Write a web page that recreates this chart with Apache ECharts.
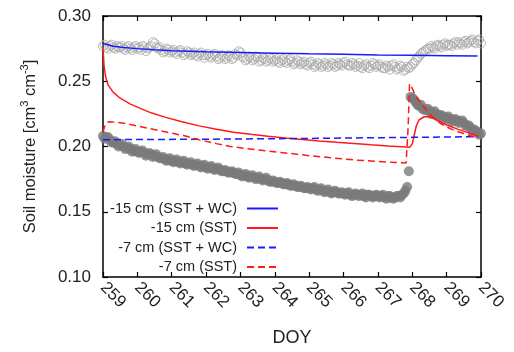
<!DOCTYPE html>
<html><head><meta charset="utf-8">
<script src="https://cdn.jsdelivr.net/npm/echarts@6/dist/echarts.min.js"></script>
<style>html,body{margin:0;padding:0;background:#fff}#c{width:514px;height:352px}</style>
</head><body><div id="c"></div>
<script>
const FONT = 'Liberation Sans, Arial, sans-serif';
const xMin = 259, xMax = 270, xStep = 1;
const yMin = 0.10, yMax = 0.30, yStep = 0.05;
const seriesNames = ['-15 cm (SST + WC)', '-15 cm (SST)', '-7 cm (SST + WC)', '-7 cm (SST)'];

// observed -15 cm (open circles)
const obs15 = [
[259.0,0.277],[259.1,0.276],[259.2,0.277],[259.3,0.276],[259.4,0.277],[259.5,0.276],[259.6,0.275],[259.7,0.276],[259.8,0.275],[259.9,0.276],
[260.0,0.275],[260.1,0.274],[260.2,0.276],[260.3,0.275],[260.4,0.277],[260.5,0.279],[260.6,0.275],[260.7,0.274],[260.8,0.273],[260.9,0.274],
[261.0,0.273],[261.1,0.272],[261.2,0.273],[261.3,0.272],[261.4,0.271],[261.5,0.272],[261.6,0.271],[261.7,0.270],[261.8,0.271],[261.9,0.270],
[262.0,0.270],[262.1,0.269],[262.2,0.270],[262.3,0.269],[262.4,0.268],[262.5,0.269],[262.6,0.268],[262.7,0.269],[262.8,0.268],[262.9,0.270],
[263.0,0.272],[263.1,0.268],[263.2,0.267],[263.3,0.268],[263.4,0.267],[263.5,0.268],[263.6,0.266],[263.7,0.267],[263.8,0.266],[263.9,0.267],
[264.0,0.266],[264.1,0.265],[264.2,0.266],[264.3,0.265],[264.4,0.266],[264.5,0.265],[264.6,0.264],[264.7,0.265],[264.8,0.264],[264.9,0.263],
[265.0,0.264],[265.1,0.263],[265.2,0.262],[265.3,0.263],[265.4,0.262],[265.5,0.263],[265.6,0.262],[265.7,0.263],[265.8,0.262],[265.9,0.263],
[266.0,0.264],[266.1,0.263],[266.2,0.262],[266.3,0.263],[266.4,0.262],[266.5,0.261],[266.6,0.262],[266.7,0.261],[266.8,0.262],[266.9,0.263],
[267.0,0.262],[267.1,0.261],[267.2,0.260],[267.3,0.261],[267.4,0.262],[267.5,0.261],[267.6,0.260],[267.7,0.261],[267.8,0.259],[267.9,0.260],
[268.0,0.263],[268.1,0.266],[268.2,0.269],[268.3,0.272],[268.4,0.274],[268.5,0.275],[268.6,0.276],[268.7,0.277],[268.8,0.277],[268.9,0.278],
[269.0,0.277],[269.1,0.278],[269.2,0.279],[269.3,0.278],[269.4,0.279],[269.5,0.280],[269.6,0.279],[269.7,0.281],[269.8,0.280],[269.9,0.281],[270.0,0.279]
];
const obs15Half = [
[259.05,0.278],[259.15,0.275],[259.25,0.278],[259.35,0.275],[259.45,0.276],[259.55,0.277],[259.65,0.274],[259.75,0.277],[259.85,0.274],[259.95,0.277],
[260.05,0.276],[260.15,0.277],[260.25,0.273],[260.35,0.276],[260.45,0.280],[260.55,0.276],[260.65,0.276],[260.75,0.272],[260.85,0.275],[260.95,0.272],
[261.05,0.274],[261.15,0.271],[261.25,0.274],[261.35,0.270],[261.45,0.273],[261.55,0.270],[261.65,0.272],[261.75,0.269],[261.85,0.272],[261.95,0.268],
[262.05,0.271],[262.15,0.268],[262.25,0.271],[262.35,0.267],[262.45,0.270],[262.55,0.267],[262.65,0.270],[262.75,0.267],[262.85,0.271],[262.95,0.273],
[263.05,0.269],[263.15,0.266],[263.25,0.269],[263.35,0.266],[263.45,0.269],[263.55,0.265],[263.65,0.268],[263.75,0.265],[263.85,0.268],[263.95,0.265],
[264.05,0.267],[264.15,0.264],[264.25,0.267],[264.35,0.264],[264.45,0.267],[264.55,0.263],[264.65,0.266],[264.75,0.263],[264.85,0.265],[264.95,0.262],
[265.05,0.265],[265.15,0.261],[265.25,0.264],[265.35,0.261],[265.45,0.264],[265.55,0.261],[265.65,0.264],[265.75,0.261],[265.85,0.264],[265.95,0.262],
[266.05,0.265],[266.15,0.262],[266.25,0.264],[266.35,0.261],[266.45,0.264],[266.55,0.260],[266.65,0.263],[266.75,0.260],[266.85,0.264],[266.95,0.261],
[267.05,0.263],[267.15,0.260],[267.25,0.262],[267.35,0.259],[267.45,0.263],[267.55,0.259],[267.65,0.262],[267.75,0.258],[267.85,0.261],[267.95,0.261],
[268.05,0.264],[268.15,0.268],[268.25,0.271],[268.35,0.273],[268.45,0.275],[268.55,0.277],[268.65,0.275],[268.75,0.278],[268.85,0.276],[268.95,0.279],
[269.05,0.278],[269.15,0.277],[269.25,0.280],[269.35,0.280],[269.45,0.278],[269.55,0.281],[269.65,0.280],[269.75,0.282],[269.85,0.279],[269.95,0.282]
];

// observed -7 cm (filled circles)
const obs7 = [
[259.0,0.208],[259.1,0.207],[259.2,0.205],[259.3,0.203],[259.4,0.202],[259.5,0.201],[259.6,0.200],[259.7,0.199],[259.8,0.198],[259.9,0.197],
[260.0,0.196],[260.1,0.196],[260.2,0.195],[260.3,0.194],[260.4,0.194],[260.5,0.193],[260.6,0.192],[260.7,0.191],[260.8,0.190],[260.9,0.190],
[261.0,0.189],[261.1,0.189],[261.2,0.188],[261.3,0.188],[261.4,0.187],[261.5,0.187],[261.6,0.186],[261.7,0.186],[261.8,0.185],[261.9,0.185],
[262.0,0.184],[262.1,0.184],[262.2,0.183],[262.3,0.183],[262.4,0.182],[262.5,0.181],[262.6,0.181],[262.7,0.180],[262.8,0.180],[262.9,0.179],
[263.0,0.178],[263.1,0.178],[263.2,0.177],[263.3,0.177],[263.4,0.176],[263.5,0.176],[263.6,0.175],[263.7,0.175],[263.8,0.174],[263.9,0.173],
[264.0,0.173],[264.1,0.172],[264.2,0.172],[264.3,0.171],[264.4,0.171],[264.5,0.170],[264.6,0.170],[264.7,0.169],[264.8,0.169],[264.9,0.168],
[265.0,0.168],[265.1,0.168],[265.2,0.167],[265.3,0.167],[265.4,0.166],[265.5,0.166],[265.6,0.165],[265.7,0.165],[265.8,0.165],[265.9,0.164],
[266.0,0.164],[266.1,0.164],[266.2,0.163],[266.3,0.163],[266.4,0.163],[266.5,0.163],[266.6,0.162],[266.7,0.163],[266.8,0.162],[266.9,0.162],
[267.0,0.162],[267.1,0.162],[267.2,0.161],[267.3,0.162],[267.4,0.161],[267.5,0.161],[267.6,0.162],[267.7,0.163],[267.8,0.166],[267.85,0.169],
[267.9,0.181],
[267.95,0.238],[268.0,0.237],[268.1,0.234],[268.2,0.231],[268.3,0.229],[268.4,0.228],[268.5,0.227],[268.6,0.226],[268.7,0.225],[268.8,0.224],
[268.9,0.223],[269.0,0.222],[269.1,0.221],[269.2,0.220],[269.3,0.220],[269.4,0.219],[269.5,0.218],[269.6,0.216],[269.7,0.214],[269.8,0.213],
[269.9,0.211],[270.0,0.210]
];
const obs7Half = [
[259.05,0.206],[259.15,0.207],[259.25,0.203],[259.35,0.204],[259.45,0.200],[259.55,0.202],[259.65,0.198],[259.75,0.200],[259.85,0.196],[259.95,0.198],
[260.05,0.195],[260.15,0.197],[260.25,0.193],[260.35,0.195],[260.45,0.192],[260.55,0.194],[260.65,0.191],[260.75,0.192],[260.85,0.189],[260.95,0.191],
[261.05,0.188],[261.15,0.190],[261.25,0.187],[261.35,0.189],[261.45,0.186],[261.55,0.188],[261.65,0.185],[261.75,0.187],[261.85,0.184],[261.95,0.186],
[262.05,0.183],[262.15,0.185],[262.25,0.182],[262.35,0.184],[262.45,0.181],[262.55,0.182],[262.65,0.180],[262.75,0.181],[262.85,0.179],[262.95,0.180],
[263.05,0.177],[263.15,0.179],[263.25,0.176],[263.35,0.178],[263.45,0.175],[263.55,0.177],[263.65,0.174],[263.75,0.176],[263.85,0.173],[263.95,0.174],
[264.05,0.172],[264.15,0.173],[264.25,0.171],[264.35,0.172],[264.45,0.170],[264.55,0.171],[264.65,0.169],[264.75,0.170],[264.85,0.168],[264.95,0.169],
[265.05,0.167],[265.15,0.169],[265.25,0.166],[265.35,0.168],[265.45,0.165],[265.55,0.167],[265.65,0.164],[265.75,0.166],[265.85,0.164],[265.95,0.165],
[266.05,0.163],[266.15,0.165],[266.25,0.162],[266.35,0.164],[266.45,0.162],[266.55,0.164],[266.65,0.161],[266.75,0.163],[266.85,0.161],[266.95,0.163],
[267.05,0.161],[267.15,0.163],[267.25,0.160],[267.35,0.162],[267.45,0.160],[267.55,0.162],[267.65,0.161],[267.75,0.164],
[268.05,0.236],[268.15,0.232],[268.25,0.232],[268.35,0.228],[268.45,0.229],[268.55,0.225],[268.65,0.227],[268.75,0.223],[268.85,0.224],[268.95,0.221],
[269.05,0.223],[269.15,0.219],[269.25,0.221],[269.35,0.218],[269.45,0.220],[269.55,0.216],[269.65,0.216],[269.75,0.212],[269.85,0.212],[269.95,0.209]
];

// model -15 cm (SST + WC)
const sim15wc = [[259.0,0.2790],[259.3,0.2768],[259.6,0.2758],[260.0,0.2750],[260.5,0.2741],[261.0,0.2734],[262.0,0.2726],[263.0,0.2720],[264.0,0.2715],[265.0,0.2710],[266.0,0.2706],[267.0,0.2702],[268.0,0.2699],[269.0,0.2696],[269.9,0.2693]];
// model -15 cm (SST)
const sim15 = [[259.0,0.276],[259.03,0.262],[259.08,0.253],[259.15,0.247],[259.3,0.2415],[259.5,0.237],[259.8,0.2325],[260.1,0.229],[260.4,0.2258],[260.8,0.2225],[261.3,0.219],[261.8,0.2158],[262.3,0.2133],[262.8,0.2110],[263.3,0.2093],[263.8,0.2078],[264.3,0.2065],[264.8,0.2053],[265.3,0.2042],[265.8,0.2032],[266.3,0.2023],[266.8,0.2013],[267.3,0.2004],[267.93,0.1995],[268.0,0.2020],[268.06,0.2090],[268.12,0.2160],[268.2,0.2205],[268.35,0.2228],[268.5,0.2228],[268.7,0.2205],[269.0,0.2165],[269.3,0.2135],[269.6,0.2108],[269.9,0.2080]];
// model -7 cm (SST + WC)
const sim7wc = [[259.0,0.2052],[262.0,0.2056],[265.0,0.2062],[268.0,0.2070],[269.9,0.2075]];
// model -7 cm (SST)
const sim7 = [[259.0,0.211],[259.05,0.2155],[259.12,0.2185],[259.2,0.219],[259.4,0.2185],[259.6,0.2178],[259.9,0.2163],[260.3,0.2140],[260.9,0.2108],[261.4,0.2080],[261.8,0.2052],[262.3,0.2022],[262.7,0.2000],[263.2,0.1983],[263.8,0.1965],[264.4,0.1948],[265.0,0.1930],[265.7,0.1912],[266.3,0.1897],[266.9,0.1887],[267.5,0.1878],[267.82,0.1874],[267.88,0.2150],[267.92,0.2480],[268.0,0.2445],[268.1,0.2385],[268.25,0.2330],[268.5,0.2250],[268.8,0.2180],[269.0,0.2150],[269.25,0.2120],[269.5,0.2100],[269.7,0.2082],[269.9,0.2065]];

const chart = echarts.init(document.getElementById('c'), null, {renderer: 'canvas'});
const axisCommon = {
  type: 'value', splitLine: {show: false},
  axisLine: {show: true, onZero: false, lineStyle: {color: '#000', width: 1.5}},
  axisTick: {show: true, inside: true, length: 5, lineStyle: {color: '#000', width: 1.2}}
};
const lineSeries = (name, data, color, dashed) => ({
  name, type: 'line', data, showSymbol: false, symbol: 'none', smooth: false,
  lineStyle: {color, width: 1.5, type: dashed ? [7, 4] : 'solid'},
  itemStyle: {color}, z: 5
});
chart.setOption({
  animation: false,
  textStyle: {fontFamily: FONT},
  grid: {left: 103, right: 33, top: 16, bottom: 75},
  legend: {
    orient: 'vertical', align: 'right', right: 235, top: 201, padding: 0,
    itemWidth: 31, itemHeight: 10, itemGap: 4.5,
    itemStyle: {color: 'rgba(0,0,0,0)', borderWidth: 0, opacity: 0},
    textStyle: {fontSize: 14.5, color: '#222', fontFamily: FONT, padding: [0, 5, 0, 0]},
    data: seriesNames
  },
  xAxis: [
    Object.assign({}, axisCommon, {
      position: 'bottom', min: xMin, max: xMax, interval: xStep,
      axisLabel: {rotate: -45, margin: 8, fontSize: 17, color: '#222', fontFamily: FONT},
      name: 'DOY', nameLocation: 'middle', nameGap: 52,
      nameTextStyle: {fontSize: 18, color: '#222', fontFamily: FONT}
    }),
    Object.assign({}, axisCommon, {
      position: 'top', min: xMin, max: xMax, interval: xStep, axisLabel: {show: false}
    })
  ],
  yAxis: [
    Object.assign({}, axisCommon, {
      position: 'left', min: yMin, max: yMax, interval: yStep,
      axisLabel: {margin: 12, fontSize: 17, color: '#222', fontFamily: FONT, formatter: v => v.toFixed(2)},
      name: '{a|Soil moisture [cm}{s|3}{a| cm}{s|-3}{a|]}', nameLocation: 'middle', nameGap: 62, nameRotate: 90,
      nameTextStyle: {
        rich: {
          a: {fontSize: 16.5, color: '#222', fontFamily: FONT, lineHeight: 22},
          s: {fontSize: 11, color: '#222', fontFamily: FONT, verticalAlign: 'top', lineHeight: 22}
        }
      }
    }),
    Object.assign({}, axisCommon, {
      position: 'right', min: yMin, max: yMax, interval: yStep, axisLabel: {show: false}
    })
  ],
  series: [
    {type: 'scatter', data: obs15.concat(obs15Half), symbol: 'circle', symbolSize: 9,
     itemStyle: {color: 'rgba(255,255,255,0)', borderColor: '#a8a8a8', borderWidth: 1}, z: 2},
    {type: 'scatter', data: obs7.concat(obs7Half), symbol: 'circle', symbolSize: 10,
     itemStyle: {color: '#7a7a7a'}, z: 3},
    lineSeries(seriesNames[0], sim15wc, '#1a1aff', false),
    lineSeries(seriesNames[1], sim15, '#ff1a1a', false),
    lineSeries(seriesNames[2], sim7wc, '#1a1aff', true),
    lineSeries(seriesNames[3], sim7, '#ff1a1a', true)
  ]
});
</script>
</body></html>
